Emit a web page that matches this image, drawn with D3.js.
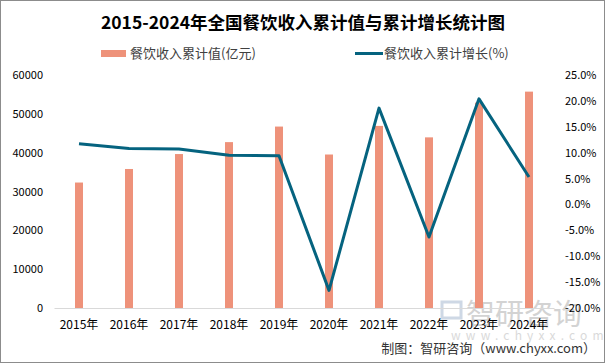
<!DOCTYPE html>
<html><head><meta charset="utf-8">
<script src="https://cdn.jsdelivr.net/npm/d3@7"></script>
<style>body{margin:0;background:#fff}svg{display:block}</style>
</head><body>
<svg id="c" width="605" height="363"></svg>
<script>
const categories = ["2015年","2016年","2017年","2018年","2019年","2020年","2021年","2022年","2023年","2024年"];
const revenue = [32310, 35799, 39644, 42716, 46721, 39527, 46895, 43941, 52890, 55718];
const growth = [11.7, 10.8, 10.7, 9.5, 9.4, -16.6, 18.6, -6.3, 20.4, 5.3];
const leftTicks = [0, 10000, 20000, 30000, 40000, 50000, 60000];
const rightTicks = [-20, -15, -10, -5, 0, 5, 10, 15, 20, 25];
const title = "2015-2024年全国餐饮收入累计值与累计增长统计图";
const seriesNames = ["餐饮收入累计值(亿元)", "餐饮收入累计增长(%)"];
const source = "制图：智研咨询（www.chyxx.com）";

const FONT = "'Noto Sans CJK SC', 'Noto Sans', sans-serif";
const barColor = "#EE927A", lineColor = "#05637F";
const svg = d3.select("#c");
svg.append("rect").attr("x",0.5).attr("y",0.5).attr("width",604).attr("height",362)
  .attr("fill","#fff").attr("stroke","#8c8c8c");

const x = d3.scaleBand().domain(categories).range([54,554]);
const yL = d3.scaleLinear().domain([0,60000]).range([308,75]);
const yR = d3.scaleLinear().domain([-20,25]).range([308,75]);

// watermark
const wm = svg.append("g").attr("opacity",0.5);
wm.append("rect").attr("x",442).attr("y",302).attr("width",19).attr("height",16).attr("fill","none").attr("stroke","#9fb3cc").attr("stroke-width",3);
wm.append("text").attr("x",466).attr("y",325).attr("font-family",FONT).attr("font-size",29).attr("fill","#a8a8a8").text("智研咨询");
wm.append("text").attr("x",451).attr("y",340).attr("font-family",FONT).attr("font-size",12).attr("letter-spacing",5.2).attr("fill","#b5b5b5").text("www.chyxx.com");

// title
svg.append("text").attr("x",303).attr("y",29).attr("text-anchor","middle")
  .attr("font-family",FONT).attr("font-weight","bold").attr("font-size",17.5).attr("fill","#000").text(title);

// legend
svg.append("rect").attr("x",101).attr("y",50).attr("width",25).attr("height",7).attr("fill",barColor);
svg.append("text").attr("x",130).attr("y",58).attr("font-family",FONT).attr("font-size",13).attr("fill","#404040").text(seriesNames[0]);
svg.append("line").attr("x1",355).attr("x2",383).attr("y1",53.5).attr("y2",53.5).attr("stroke",lineColor).attr("stroke-width",3);
svg.append("text").attr("x",384).attr("y",58).attr("font-family",FONT).attr("font-size",13).attr("fill","#404040").text(seriesNames[1]);

// left axis
const gl = svg.append("g").attr("transform","translate(43,0)")
  .call(d3.axisLeft(yL).tickValues(leftTicks).tickSize(0).tickPadding(0).tickFormat(d3.format("d")));
gl.select(".domain").remove();
gl.selectAll("text").attr("font-family",FONT).attr("font-size",11).attr("fill","#000");

// right axis
const gr = svg.append("g").attr("transform","translate(565,0)")
  .call(d3.axisRight(yR).tickValues(rightTicks).tickSize(0).tickPadding(0).tickFormat(d => d.toFixed(1)+"%"));
gr.select(".domain").remove();
gr.selectAll("text").attr("font-family",FONT).attr("font-size",11).attr("fill","#000");

// bars
svg.append("g").selectAll("rect").data(revenue).join("rect")
  .attr("x",(d,i)=>x(categories[i])+x.bandwidth()/2-4).attr("width",8)
  .attr("y",d=>yL(d)).attr("height",d=>yL(0)-yL(d)).attr("fill",barColor);

// x axis
const gx = svg.append("g").attr("transform","translate(0,308)")
  .call(d3.axisBottom(x).tickSize(0).tickPadding(12));
gx.select(".domain").attr("stroke","#d9d9d9");
gx.selectAll("text").attr("font-family",FONT).attr("font-size",12).attr("fill","#000");

// line
const line = d3.line().x((d,i)=>x(categories[i])+x.bandwidth()/2).y(d=>yR(d));
svg.append("path").datum(growth).attr("d",line).attr("fill","none")
  .attr("stroke",lineColor).attr("stroke-width",3).attr("stroke-linejoin","round");

// source
svg.append("text").attr("x",596).attr("y",353).attr("text-anchor","end")
  .attr("font-family",FONT).attr("font-size",13).attr("fill","#333").text(source);
</script>
</body></html>
